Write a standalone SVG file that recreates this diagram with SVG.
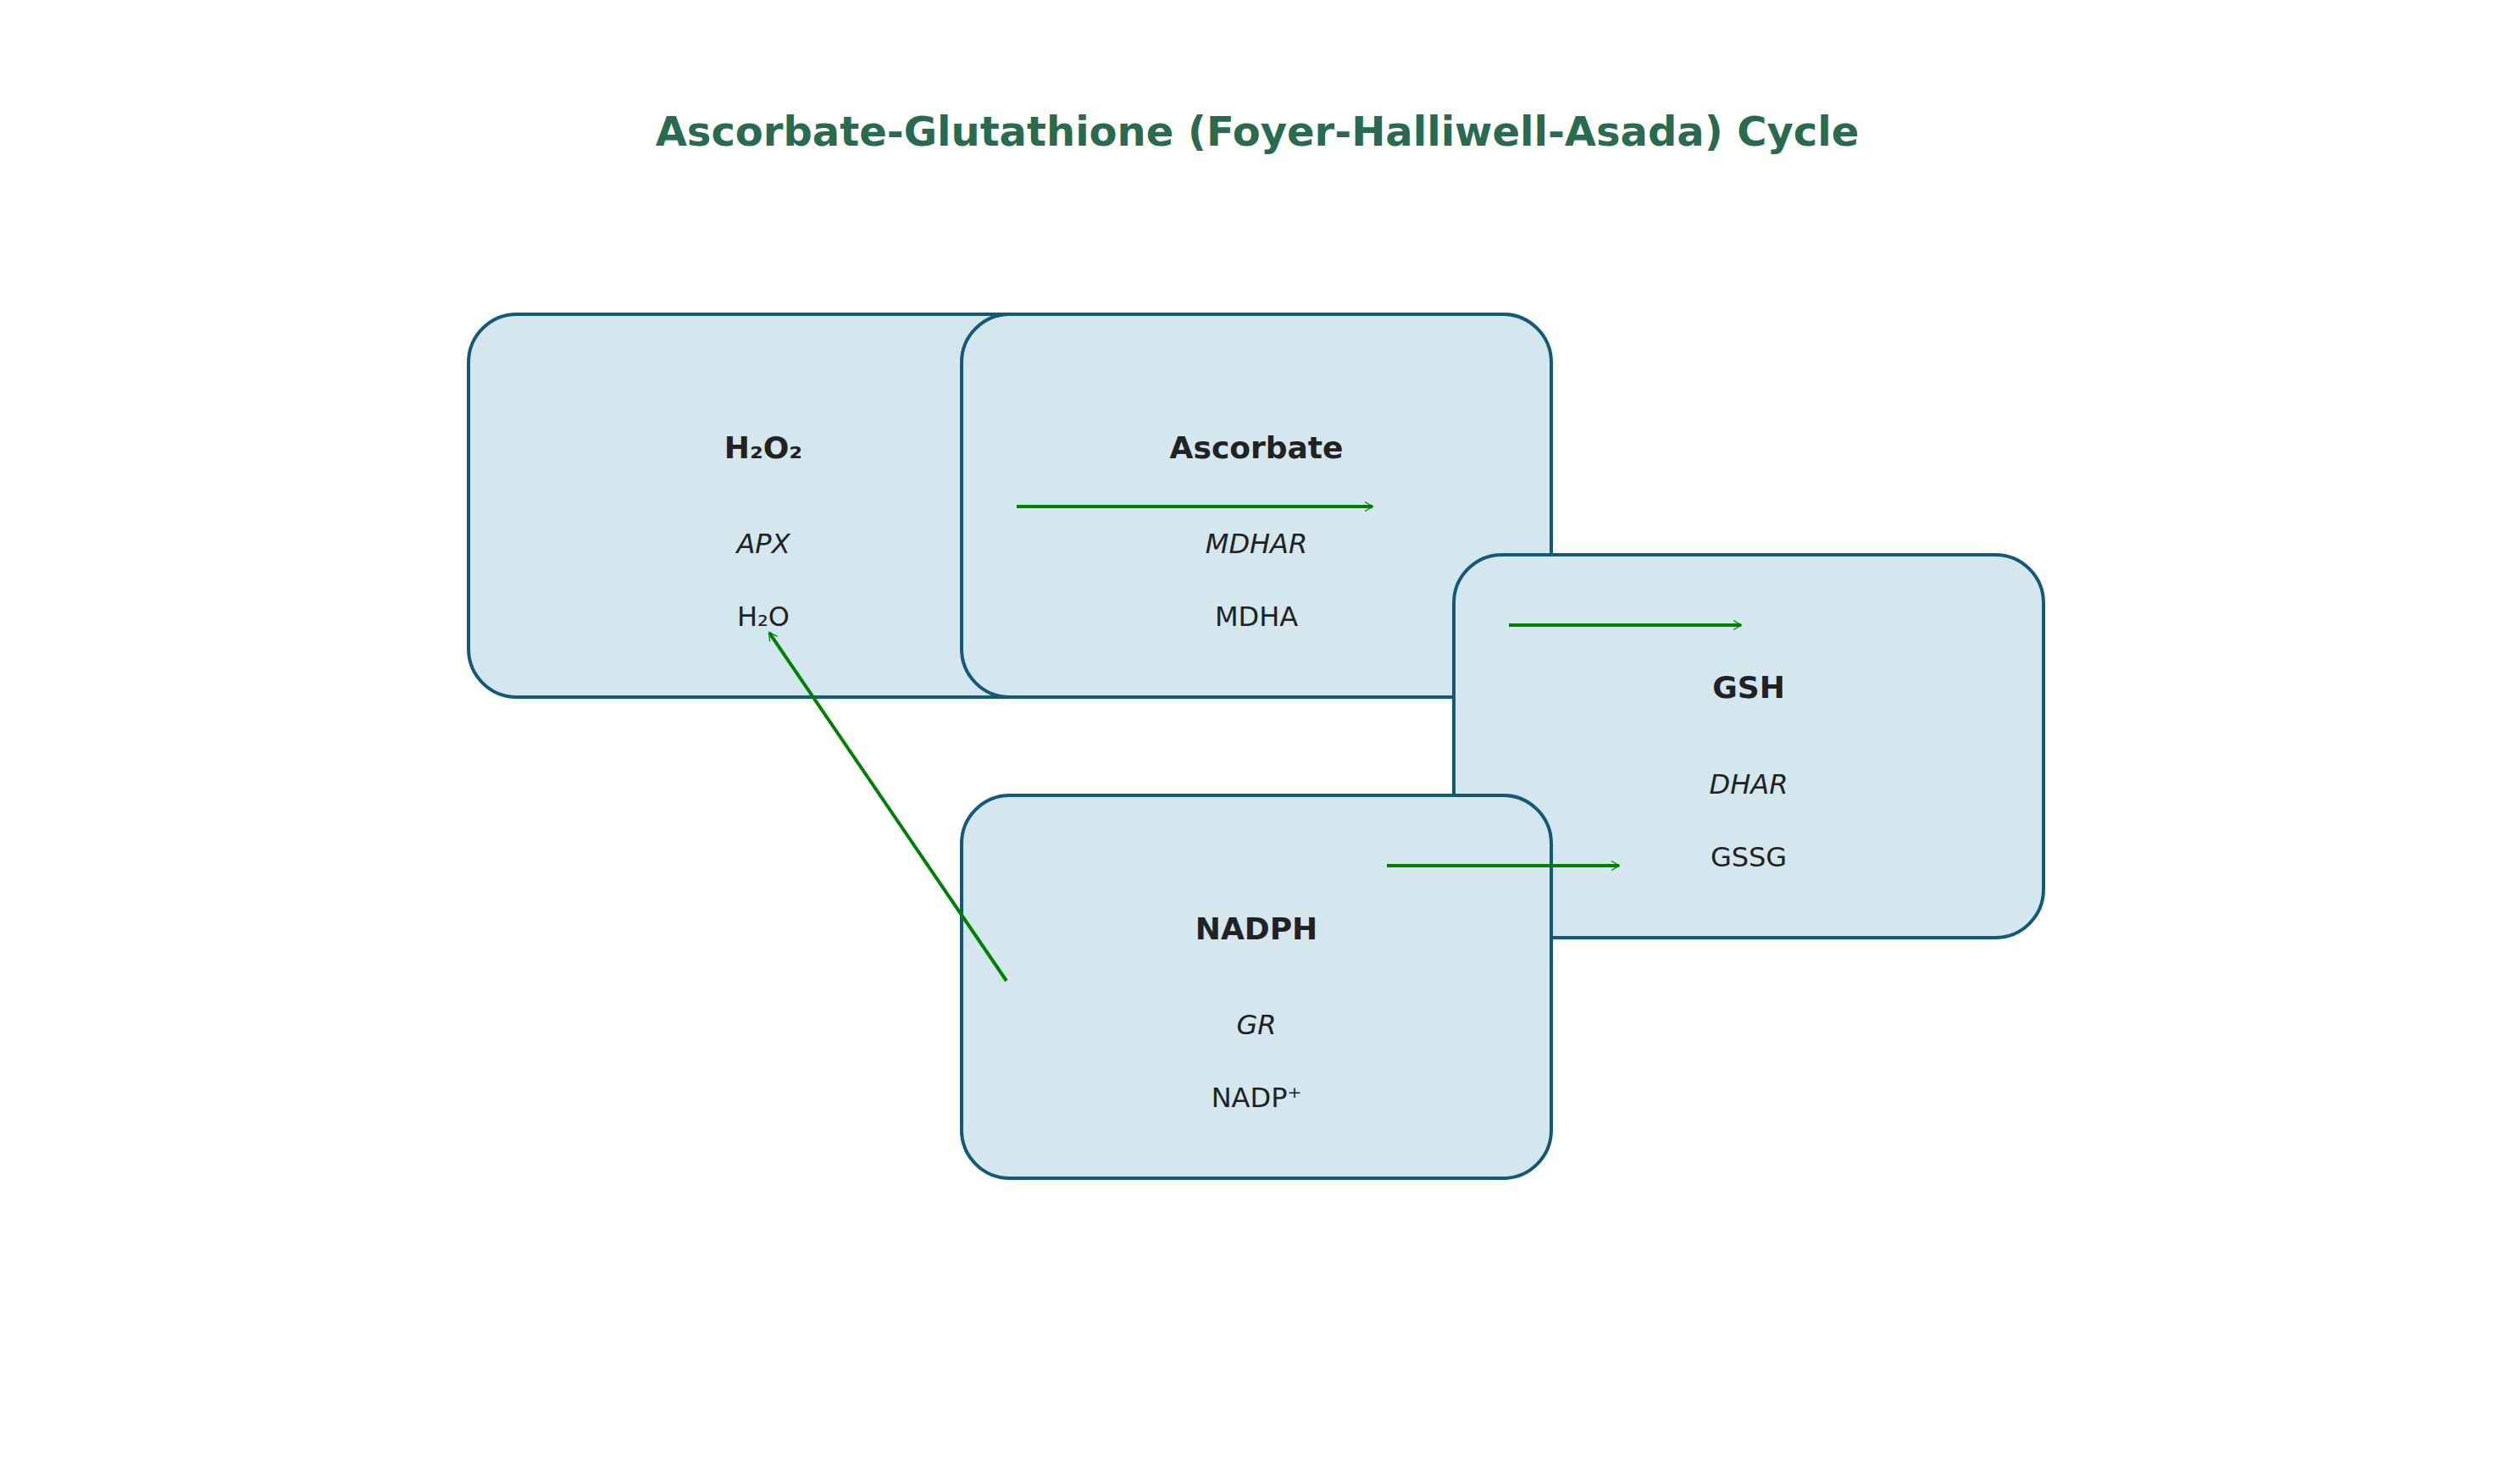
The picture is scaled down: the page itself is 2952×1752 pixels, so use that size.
<svg xmlns="http://www.w3.org/2000/svg" width="2952" height="1752" viewBox="0 0 2952 1752">
<style>
.box{fill:#d4e6ee;stroke:#135a78;stroke-width:4}
.t{font-family:"DejaVu Sans",sans-serif;fill:#222;text-anchor:middle}
.b{font-weight:bold;font-size:36px}
.i{font-style:italic;font-size:32px}
.n{font-size:32px}
.c{stroke:#008000;stroke-width:4;fill:none;marker-end:url(#a)}
</style>
<defs><marker id="a" markerWidth="12" markerHeight="12" refX="10" refY="6" orient="auto" markerUnits="userSpaceOnUse" viewBox="0 0 12 12"><path d="M1,0.5 L10.5,6 L1,11.5" fill="none" stroke="#008000" stroke-width="1.2"/></marker></defs>
<rect width="2952" height="1752" fill="#fff"/>
<text x="1484" y="172" font-family="DejaVu Sans,sans-serif" font-weight="bold" font-size="48" fill="#2a6b4f" text-anchor="middle">Ascorbate-Glutathione (Foyer-Halliwell-Asada) Cycle</text>
<g id="h2o2"><rect class="box" x="553" y="371" width="696" height="452" rx="57"/><text class="t b" x="901" y="541">H₂O₂</text><text class="t i" x="901" y="653">APX</text><text class="t n" x="901" y="739">H₂O</text></g>
<g id="ascorbate"><rect class="box" x="1135" y="371" width="696" height="452" rx="57"/><text class="t b" x="1483" y="541">Ascorbate</text><text class="t i" x="1483" y="653">MDHAR</text><text class="t n" x="1483" y="739">MDHA</text></g>
<g id="gsh"><rect class="box" x="1716" y="655" width="696" height="452" rx="57"/><text class="t b" x="2064" y="824">GSH</text><text class="t i" x="2064" y="937">DHAR</text><text class="t n" x="2064" y="1023">GSSG</text></g>
<g id="nadph"><rect class="box" x="1135" y="939" width="696" height="452" rx="57"/><text class="t b" x="1483" y="1109">NADPH</text><text class="t i" x="1483" y="1221">GR</text><text class="t n" x="1483" y="1307">NADP⁺</text></g>
<g id="connectors">
<line class="c" x1="1200" y1="598" x2="1620" y2="598"/>
<line class="c" x1="1781" y1="738" x2="2055" y2="738"/>
<line class="c" x1="1637" y1="1022" x2="1911" y2="1022"/>
<line class="c" x1="1188" y1="1158" x2="908" y2="747"/>
</g>
</svg>
